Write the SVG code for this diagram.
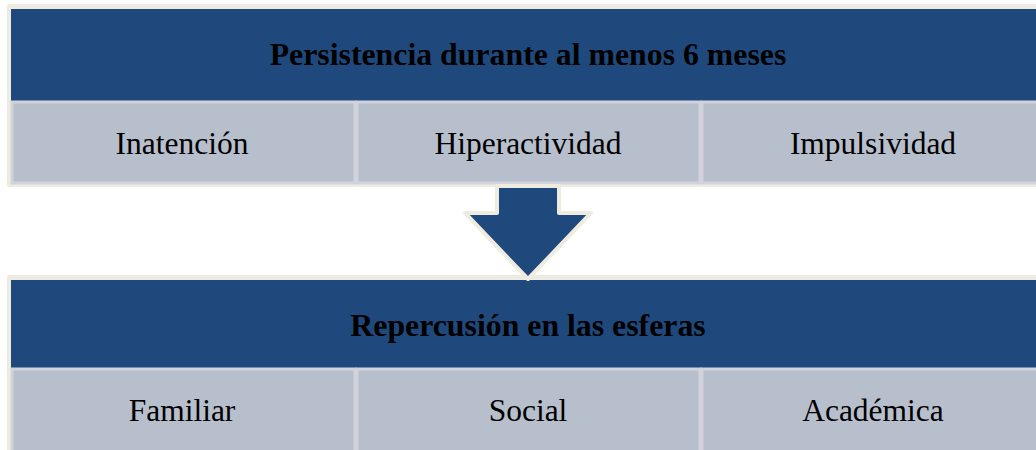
<svg xmlns="http://www.w3.org/2000/svg" width="1036" height="450" viewBox="0 0 1036 450">
<style>
.frame{fill:#eeece1}
.head{fill:#1f497d}
.cell{fill:#b8bfcc;stroke:#d0d3dc;stroke-width:3}
.t{font-family:"Liberation Serif","Times New Roman",serif;font-size:31.5px;fill:#000;text-anchor:middle}
.b{font-weight:bold;font-size:31.8px}
.arrow{fill:#1f497d;stroke:#eeece1;stroke-width:4;stroke-linejoin:round}
</style>
<rect width="1036" height="450" fill="#ffffff"/>
<g id="top">
<rect class="frame" x="7" y="4" width="1045" height="183" rx="2"/>
<rect class="head" x="11" y="9" width="1040" height="92"/>
<text class="t b" x="528" y="65">Persistencia durante al menos 6 meses</text>
</g>
<g id="inatencion">
<rect class="cell" x="12" y="102" width="343" height="81"/>
<text class="t" x="182" y="154">Inatención</text>
</g>
<g id="hiperactividad">
<rect class="cell" x="357" y="102" width="343" height="81"/>
<text class="t" x="528" y="154">Hiperactividad</text>
</g>
<g id="impulsividad">
<rect class="cell" x="702" y="102" width="345" height="81"/>
<text class="t" x="873" y="154">Impulsividad</text>
</g>
<g id="bottom">
<rect class="frame" x="7" y="275" width="1045" height="180" rx="2"/>
<rect class="head" x="11" y="280" width="1040" height="88"/>
<text class="t b" x="528" y="336">Repercusión en las esferas</text>
</g>
<g id="familiar">
<rect class="cell" x="12" y="369" width="343" height="84"/>
<text class="t" x="182" y="421">Familiar</text>
</g>
<g id="social">
<rect class="cell" x="357" y="369" width="343" height="84"/>
<text class="t" x="528" y="421">Social</text>
</g>
<g id="academica">
<rect class="cell" x="702" y="369" width="345" height="84"/>
<text class="t" x="873" y="421">Académica</text>
</g>
<g id="connectors">
<polygon class="arrow" points="497,186 559,186 559,213 591,213 528,279 465,213 497,213"/>
</g>
</svg>
